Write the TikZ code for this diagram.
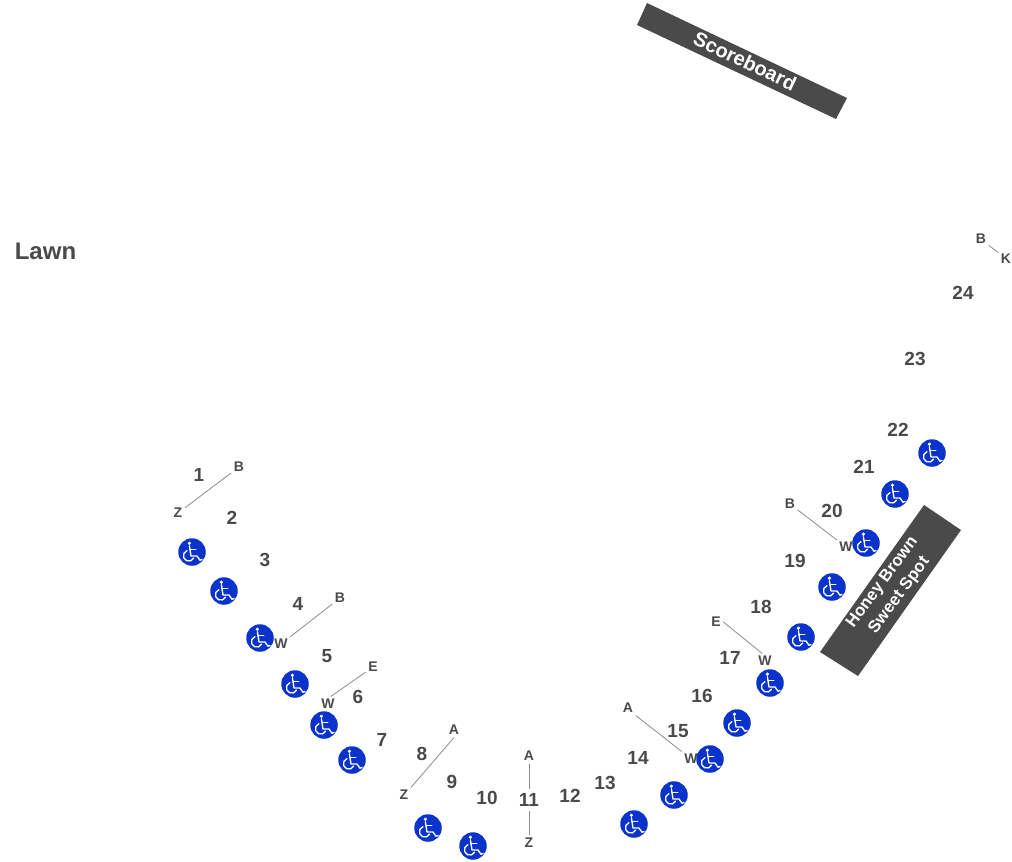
\documentclass[tikz,border=0pt]{standalone}
\usepackage{fontspec}
\setmainfont{Liberation Sans}
\definecolor{ink}{HTML}{4A4A4A}
\definecolor{chair}{HTML}{0A33CC}
\tikzset{
  x=1pt,y=-1pt,
  sec/.style={font=\fontsize{19}{19}\selectfont\bfseries,text=ink,inner sep=0pt},
  rowl/.style={font=\fontsize{14}{14}\selectfont\bfseries,text=ink,inner sep=2.5pt},
  link/.style={draw=black!45,line width=0.8pt},
  block/.style={fill=ink,draw=none},
  blocktxt/.style={text=white,align=center,inner sep=0pt},
  ada/.style={circle,fill=chair,draw=none,minimum size=27.5pt,inner sep=0pt,
    path picture={
      \begin{scope}[shift={(path picture bounding box.center)},x=1pt,y=1pt,white,line width=1.35pt,line cap=round,line join=round]
        \fill (-2.6,8.8) circle (1.8);
        \draw (-2.6,6.2) -- (-1,-4) -- (5,-4) -- (8,-8.3) -- (10,-7.4);
        \draw (-2.1,2.4) -- (3.8,2.4);
        \draw (-5.1,1.3) arc[start angle=110,end angle=335,radius=5.4];
      \end{scope}}},
}
\begin{document}
\begin{tikzpicture}
\useasboundingbox (0,0) rectangle (1012,862);
\path[block] (647,3) -- (847,98) -- (836,119) -- (637,25) -- cycle;
\path[block] (924,505) -- (961,530) -- (858,676) -- (820,652) -- cycle;
\node[blocktxt,rotate=-25.5,font=\fontsize{20}{20}\selectfont\bfseries] (score) at (745,61) {Scoreboard};
\node[blocktxt,rotate=53.5,font=\fontsize{16.8}{21}\selectfont\bfseries] (honey) at (891,589) {Honey Brown\\Sweet Spot};
\node[font=\fontsize{24}{24}\selectfont\bfseries,text=ink,inner sep=0pt] (lawn) at (45.5,251) {Lawn};
% sections
\foreach \n/\x/\y in {1/199/475,2/232/518,3/265/560,4/298/604,5/327/656,6/358/697,7/382/740,8/422/754,9/452/782,10/487/798,11/529/800,12/570/796,13/605/783,14/638/758,15/678/731,16/702/696,17/730/658,18/761/607,19/795/561,20/832/511,21/864/467,22/898/430,23/915/359,24/963/293}
  \node[sec] (s\n) at (\x,\y) {\n};
% row letters
\node[rowl] (b1) at (239,467) {B};
\node[rowl] (z1) at (178,513) {Z};
\node[rowl] (b4) at (340,598) {B};
\node[rowl] (w4) at (281,644) {W};
\node[rowl] (e6) at (373,667) {E};
\node[rowl] (w6) at (328,704) {W};
\node[rowl] (a8) at (454,730) {A};
\node[rowl] (z8) at (404,795) {Z};
\node[rowl] (a11) at (529,756) {A};
\node[rowl] (z11) at (529,843) {Z};
\node[rowl] (a15) at (628,708) {A};
\node[rowl] (w15) at (691,759) {W};
\node[rowl] (e17) at (716,622) {E};
\node[rowl] (w17) at (765,661) {W};
\node[rowl] (b20) at (790,504) {B};
\node[rowl] (w20) at (846,547) {W};
\node[rowl] (b24) at (981,239) {B};
\node[rowl] (k24) at (1006,259) {K};
% wheelchair badges
\foreach \i/\x/\y in {1/192/552,2/224/591,3/260/638,4/295/684,5/324/725,6/352/760,7/428/828,8/473/846,9/634/824,10/674/795,11/710/759,12/737/723,13/770/683,14/801/637,15/832/587,16/866/543,17/895/494,18/932/453}
  \node[ada] (c\i) at (\x,\y) {};
% connectors
\draw[link] (b1) -- (z1);
\draw[link] (b4) -- (w4);
\draw[link] (e6) -- (w6.70);
\draw[link] (a8.south) -- (z8.north east);
\draw[link,shorten >=4pt] (a11) -- (s11);
\draw[link,shorten <=4pt] (s11) -- (z11);
\draw[link] (a15.south east) -- (w15.north west);
\draw[link] (e17.east) -- (w17.110);
\draw[link] (b20) -- (w20);
\draw[link] (b24) -- (k24);
\end{tikzpicture}
\end{document}
